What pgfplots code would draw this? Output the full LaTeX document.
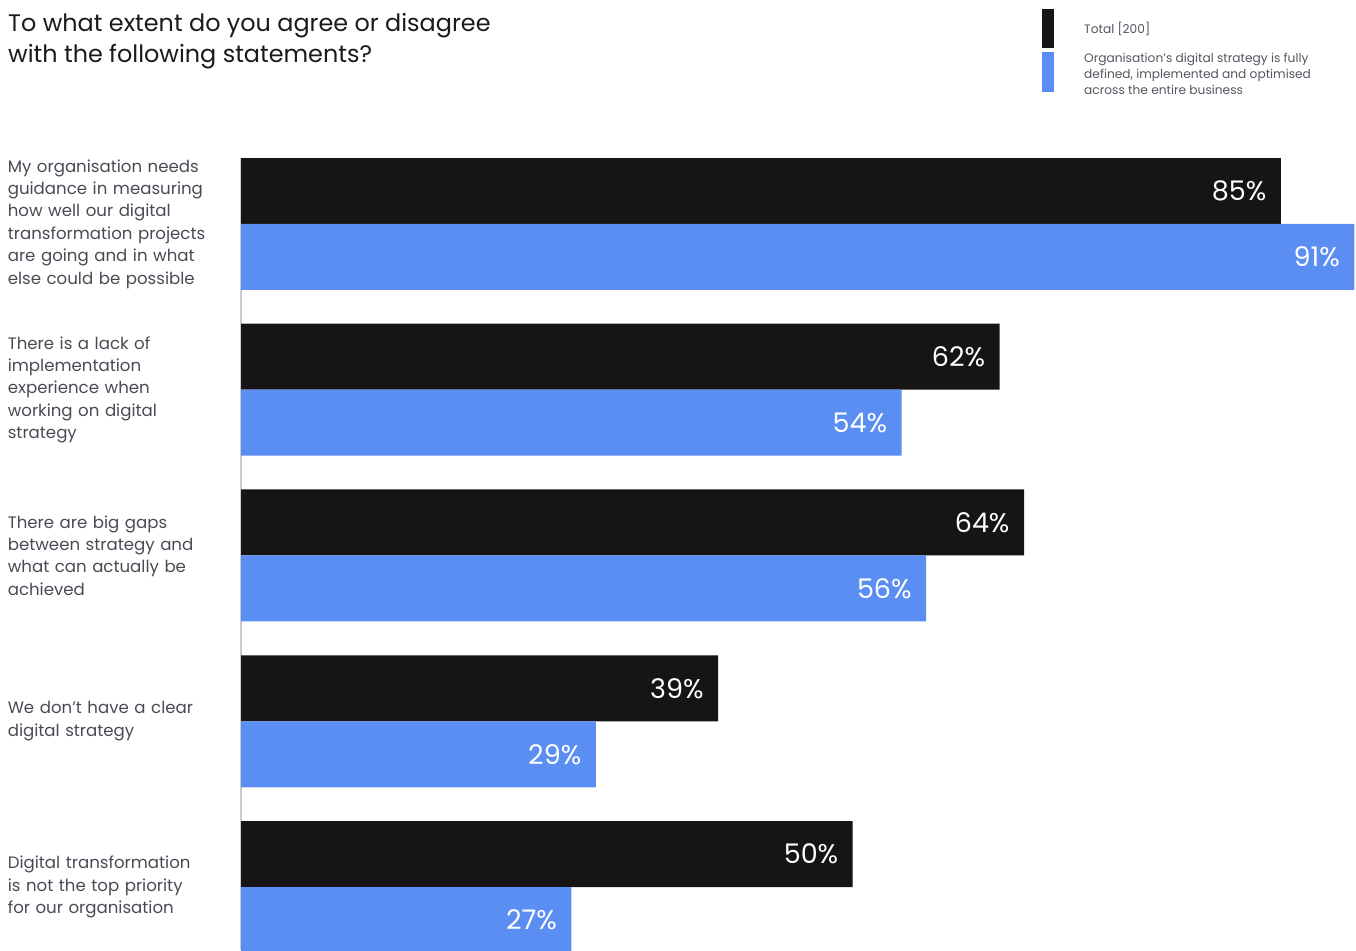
\documentclass[border=0pt]{standalone}
\usepackage{fontspec}
\setmainfont{Poppins}
\usepackage{pgfplots}
\pgfplotsset{compat=1.18}
\definecolor{barblack}{HTML}{161415}
\definecolor{barblue}{HTML}{5B8EF3}
\definecolor{labgray}{HTML}{4A4A55}
\definecolor{leggray}{HTML}{555560}
\definecolor{axgray}{HTML}{CCCCCC}
\definecolor{titlecol}{HTML}{1A1A1A}
\begin{document}
\begin{tikzpicture}[x=1pt,y=1pt]
\useasboundingbox (0,0) rectangle (1356,950);
\begin{axis}[
  at={(241pt,0pt)}, anchor=south west,
  scale only axis, width=1115pt, height=792pt,
  xmin=0, xmax=91.13, ymin=-0.398, ymax=4.380, y dir=reverse,
  xbar=0pt, bar width=66pt,
  axis x line=none, axis y line*=left,
  y axis line style={axgray, line width=2.5pt},
  ytick={0,1,2,3,4}, major tick length=0pt,
  yticklabels={{My organisation needs\\guidance in measuring\\how well our digital\\transformation projects\\are going and in what\\else could be possible},
    {There is a lack of\\implementation\\experience when\\working on digital\\strategy},
    {There are big gaps\\between strategy and\\what can actually be\\achieved},
    {We don't have a clear\\digital strategy},
    {Digital transformation\\is not the top priority\\for our organisation}},
  yticklabel style={anchor=east, text width=226pt, align=left, inner sep=0pt, xshift=-7pt,
    font=\fontsize{16.6}{22.4}\selectfont, text=labgray},
  point meta=x,
  nodes near coords={\pgfmathprintnumber[assume math mode=true]{\pgfplotspointmeta}\%},
  nodes near coords style={anchor=east, text=white, font=\fontsize{27}{30}\selectfont, xshift=-11pt},
]
\addplot[fill=barblack, draw=none, bar shift=33pt] coordinates {(85,0) (62,1) (64,2) (39,3) (50,4)};
\addplot[fill=barblue, draw=none, bar shift=-33pt] coordinates {(91,0) (54,1) (56,2) (29,3) (27,4)};
\end{axis}
\node[anchor=base west, inner sep=0pt, text=titlecol, font=\fontsize{23.9}{31}\selectfont] at (8,918) {To what extent do you agree or disagree};
\node[anchor=base west, inner sep=0pt, text=titlecol, font=\fontsize{23.9}{31}\selectfont] at (8,887) {with the following statements?};
\fill[barblack] (1042,902) rectangle (1054,941);
\fill[barblue] (1042,858) rectangle (1054,898);
\node[anchor=base west, inner sep=0pt, text=leggray, font=\fontsize{12.2}{16}\selectfont] at (1084,916) {Total [200]};
\node[anchor=base west, inner sep=0pt, text=leggray, font=\fontsize{12.2}{16}\selectfont] at (1084,887) {Organisation's digital strategy is fully};
\node[anchor=base west, inner sep=0pt, text=leggray, font=\fontsize{12.2}{16}\selectfont] at (1084,871) {defined, implemented and optimised};
\node[anchor=base west, inner sep=0pt, text=leggray, font=\fontsize{12.2}{16}\selectfont] at (1084,855) {across the entire business};
\end{tikzpicture}
\end{document}
